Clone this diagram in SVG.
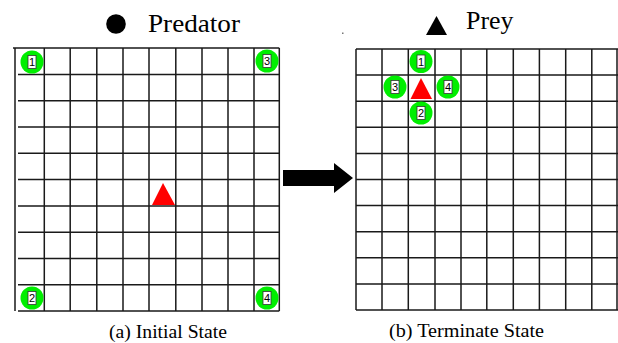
<svg xmlns="http://www.w3.org/2000/svg" width="618" height="343" viewBox="0 0 618 343">
<defs>
<style>
.grid{fill:none;stroke:#1a1a1a;stroke-width:1.5}
.pred{fill:#00ee00}
.tag{fill:#ffffff;stroke:#333333;stroke-width:0.8}
.num{font-family:"Liberation Sans",Arial,sans-serif;font-size:11px;fill:#000000;text-anchor:middle}
.prey{fill:#ff0000}
.legend{font-family:"Liberation Serif","Times New Roman",serif;font-size:25px;fill:#000000}
.cap{font-family:"Liberation Serif","Times New Roman",serif;font-size:19.5px;fill:#000000}
</style>
<g id="agent">
<circle class="pred" cx="0" cy="0" r="11.5"/>
<rect class="tag" x="-4" y="-6.5" width="8" height="13"/>
</g>
</defs>
<rect width="618" height="343" fill="#ffffff"/>

<g id="legend">
<circle cx="116" cy="24" r="9.8" fill="#000000"/>
<text class="legend" x="148" y="32" textLength="92" lengthAdjust="spacingAndGlyphs">Predator</text>
<polygon points="436.5,16 426,35 447,35" fill="#000000"/>
<text class="legend" x="466" y="29" textLength="47.5" lengthAdjust="spacingAndGlyphs">Prey</text>
<rect x="342" y="32.5" width="1.5" height="1.5" fill="#777777"/>
</g>

<g id="grid-initial">
<path class="grid" d="M15,48 V311 M44.3,48 V311 M70.2,48 V311 M96.8,48 V311 M123,48 V311 M149,48 V311 M175.8,48 V311 M202,48 V311 M228,48 V311 M254,48 V311 M279.3,48 V311"/>
<path class="grid" d="M13,48 H279.3 M18,74.5 H279.3 M18,100.8 H279.3 M18,127 H279.3 M18,153.3 H279.3 M18,179.6 H279.3 M18,205.9 H279.3 M18,232.2 H279.3 M18,258.5 H279.3 M18,284.8 H279.3 M18,311 H279.3"/>
</g>

<g id="grid-terminate">
<path class="grid" d="M356,49 V310 M382,49 V310 M408.3,49 V310 M435,49 V310 M461,49 V310 M486.8,49 V310 M513.3,49 V310 M539.4,49 V310 M565.7,49 V310 M591.8,49 V310 M617,49 V310"/>
<path class="grid" d="M356,49 H618 M356,75.1 H618 M356,101.2 H618 M356,127.3 H618 M356,153.4 H618 M356,179.5 H618 M356,205.6 H618 M356,231.7 H618 M356,257.8 H618 M356,283.9 H618 M356,310 H618"/>
</g>

<g id="initial-predator-1"><use href="#agent" x="32" y="62"/><text class="num" x="32" y="66">1</text></g>
<g id="initial-predator-3"><use href="#agent" x="267" y="61"/><text class="num" x="267" y="65">3</text></g>
<g id="initial-predator-2"><use href="#agent" x="32" y="298"/><text class="num" x="32" y="302">2</text></g>
<g id="initial-predator-4"><use href="#agent" x="267" y="298"/><text class="num" x="267" y="302">4</text></g>
<g id="initial-prey"><polygon class="prey" points="163,183 152,205 175,205"/></g>

<g id="terminate-predator-1"><use href="#agent" x="421" y="61.5"/><text class="num" x="421" y="65.5">1</text></g>
<g id="terminate-predator-3"><use href="#agent" x="395" y="87"/><text class="num" x="395" y="91">3</text></g>
<g id="terminate-predator-4"><use href="#agent" x="448" y="87"/><text class="num" x="448" y="91">4</text></g>
<g id="terminate-predator-2"><use href="#agent" x="421" y="113"/><text class="num" x="421" y="117">2</text></g>
<g id="terminate-prey"><polygon class="prey" points="421,78 410.5,99 432,99"/></g>

<g id="connectors">
<polygon points="283,170 334,170 334,163 353,178 334,193 334,186 283,186" fill="#000000"/>
</g>

<g id="captions">
<text class="cap" x="109" y="338" textLength="118" lengthAdjust="spacingAndGlyphs">(a) Initial State</text>
<text class="cap" x="389" y="337" textLength="155" lengthAdjust="spacingAndGlyphs">(b) Terminate State</text>
</g>
</svg>
